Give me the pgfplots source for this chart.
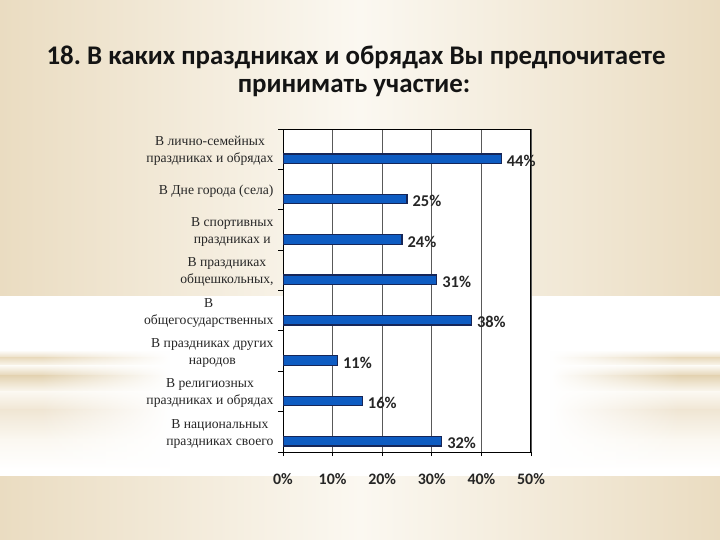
\documentclass[border=0pt]{standalone}
\usepackage{fontspec}
\setmainfont{Liberation Serif}
\newfontfamily\carlito{Carlito}
\usepackage{pgfplots}
\pgfplotsset{compat=1.18}
\usetikzlibrary{fadings}
\definecolor{beigeD}{RGB}{234,220,193}
\definecolor{beigeDD}{RGB}{228,212,180}
\definecolor{beigeM}{RGB}{240,230,212}
\definecolor{beigeL}{RGB}{251,248,241}
\definecolor{barblue}{RGB}{14,92,194}
\definecolor{barline}{RGB}{22,38,88}
\tikzfading[name=fadeL, left color=transparent!100, right color=transparent!0]
\tikzfading[name=fadeR, left color=transparent!0, right color=transparent!100]
\begin{document}
\begin{tikzpicture}
\path[use as bounding box] (0,0) rectangle (720bp,540bp);
% top background
\shade[left color=beigeD, right color=beigeD, middle color=beigeL] (0,244bp) rectangle (720bp,540bp);
% middle band
\fill[white] (0,63bp) rectangle (720bp,244bp);
\shade[top color=white, bottom color=beigeD] (0,182bp) rectangle (720bp,190bp);
\shade[top color=beigeD, bottom color=beigeL] (0,174bp) rectangle (720bp,182bp);
\shade[top color=beigeL, bottom color=beigeDD] (0,164bp) rectangle (720bp,174bp);
\shade[top color=beigeDD, bottom color=beigeL] (0,148bp) rectangle (720bp,164bp);
\shade[top color=beigeL, bottom color=beigeM] (0,130bp) rectangle (720bp,148bp);
\shade[top color=beigeM, bottom color=beigeL] (0,100bp) rectangle (720bp,130bp);
\shade[top color=beigeL, bottom color=white] (0,70bp) rectangle (720bp,100bp);
\fill[white] (170bp,63bp) rectangle (550bp,244bp);
\fill[white, path fading=fadeL] (40bp,63bp) rectangle (170bp,244bp);
\fill[white, path fading=fadeR] (550bp,63bp) rectangle (680bp,244bp);
% bottom background
\shade[left color=beigeD, right color=beigeD, middle color=beigeL] (0,0) rectangle (720bp,63bp);
% title
\node[font=\carlito\bfseries\fontsize{27}{27}\selectfont, text=black!92, anchor=base] at (356bp,475bp) {18.\kern-2bp{} В каких праздниках и обрядах Вы предпочитаете};
\node[font=\carlito\bfseries\fontsize{27}{27}\selectfont, text=black!92, anchor=base] at (354bp,447bp) {принимать участие:};
\begin{axis}[
  at={(283bp,88bp)}, anchor=south west,
  scale only axis, width=248bp, height=323bp,
  xmin=0, xmax=50, ymin=-0.5, ymax=7.5, y dir=reverse,
  xbar, bar width=9.5bp,
  axis background/.style={fill=white},
  axis line style={draw=black, line width=1bp},
  tick pos=left,
  xtick={0,10,20,30,40,50},
  xticklabels={0\%,10\%,20\%,30\%,40\%,50\%},
  xticklabel style={font=\carlito\bfseries\fontsize{16}{16}\selectfont, text=black!85, yshift=-14bp},
  xmajorgrids, grid style={draw=black!65, line width=0.9bp},
  ytick={0,1,2,3,4,5,6,7},
  yticklabels={{В лично-семейных\\праздниках и обрядах},{В Дне города (села)},{В спортивных\\праздниках и},{В праздниках\\общешкольных,},{В\\общегосударственных},{В праздниках других\\народов},{В религиозных\\праздниках и обрядах},{В национальных\\праздниках своего}},
  yticklabel style={font=\fontsize{13.7}{17}\selectfont, align=center, text=black!85, xshift=-2bp, yshift=-2bp},
  minor ytick={-0.5,0.5,1.5,2.5,3.5,4.5,5.5,6.5,7.5},
  tick align=outside,
  major tick length=4bp, minor tick length=5bp,
  major y tick style={draw=none},
  minor y tick style={draw=black, line width=0.9bp},
  major x tick style={draw=black, line width=0.9bp},
  point meta=x,
  nodes near coords={\pgfmathprintnumber[assume math mode=true]{\pgfplotspointmeta}\%},
  every node near coord/.append style={anchor=west, inner sep=0pt, xshift=5bp, yshift=-2bp, font=\carlito\bfseries\fontsize{16.5}{16.5}\selectfont, text=black!85},
]
\addplot[fill=barblue, draw=barline, line width=1.2bp] coordinates {
  (44,0.235) (25,1.235) (24,2.235) (31,3.235) (38,4.235) (11,5.235) (16,6.235) (32,7.235)};
\end{axis}
\end{tikzpicture}
\end{document}
